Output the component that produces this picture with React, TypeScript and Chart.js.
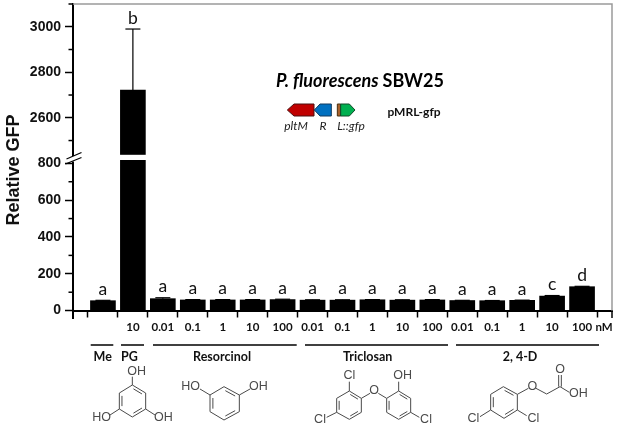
import { useEffect, useRef } from "react";
import { Chart, LinearScale, registerables } from "chart.js";

// ---- data ----
const categories = ["", "", "10", "0.01", "0.1", "1", "10", "100", "0.01", "0.1", "1", "10", "100", "0.01", "0.1", "1", "10", "100", ""];
const relativeGfp = [null, 54, 2722, 65, 58, 58, 58, 60, 57, 57, 59, 57, 58, 55, 54, 56, 79, 130, null];
const errorUp = [null, 2, 268, 5, 2, 2, 2, 2, 2, 2, 1, 2, 2, 1, 1, 1, 3, 2, null];
const letters = ["", "a", "b", "a", "a", "a", "a", "a", "a", "a", "a", "a", "a", "a", "a", "a", "c", "d", ""];
const majorTicks = [0, 200, 400, 600, 800, 2600, 2800, 3000];
const minorTicks = [100, 300, 500, 700, 2500, 2700, 2900, 3100];
const groupNames = ["Me", "PG", "Resorcinol", "Triclosan", "2, 4-D"];
const groupSpans = [[90.7, 113.3], [121, 144], [153, 296.7], [305, 448], [456, 599]];
const groupCentres = [102.7, 129.3, 222, 367.7, 520];

// piecewise value -> fraction of the axis height, with a cut between 830 and 2440
const breakAnchors = [[-40, 0], [830, 0.5102], [2440, 0.5217], [3100, 1]];

class BrokenScale extends LinearScale {
  static id = "brokenLinear";
  static defaults = LinearScale.defaults;
  getPixelForValue(value: any) {
    if (value === null || value === undefined) return NaN;
    let i = 0;
    while (i < breakAnchors.length - 2 && value > breakAnchors[i + 1][0]) i++;
    const [v0, f0] = breakAnchors[i];
    const [v1, f1] = breakAnchors[i + 1];
    const f = f0 + ((value - v0) / (v1 - v0)) * (f1 - f0);
    return this.bottom - f * (this.bottom - this.top);
  }
  getValueForPixel(pixel: number) {
    const f = (this.bottom - pixel) / (this.bottom - this.top);
    let i = 0;
    while (i < breakAnchors.length - 2 && f > breakAnchors[i + 1][1]) i++;
    const [v0, f0] = breakAnchors[i];
    const [v1, f1] = breakAnchors[i + 1];
    return v0 + ((f - f0) / (f1 - f0)) * (v1 - v0);
  }
}

Chart.register(...registerables, BrokenScale);

const CAL = "Lato, 'Open Sans', sans-serif";
const ARIAL = "'Liberation Sans', Arial, sans-serif";

function line(ctx: CanvasRenderingContext2D, pts: number[][]) {
  ctx.beginPath();
  pts.forEach((p, i) => (i ? ctx.lineTo(p[0], p[1]) : ctx.moveTo(p[0], p[1])));
  ctx.stroke();
}

function text(ctx: CanvasRenderingContext2D, s: string, x: number, y: number, font: string, color = "#000", align: CanvasTextAlign = "center") {
  ctx.font = font;
  ctx.fillStyle = color;
  ctx.textAlign = align;
  ctx.textBaseline = "middle";
  ctx.fillText(s, x, y);
}

function drawGene(ctx: CanvasRenderingContext2D) {
  const P = (x: number, y: number) => [260 + x / 3, 60 + y / 3];
  const poly = (pts: number[][], fill: string, stroke: string) => {
    ctx.beginPath();
    pts.forEach((p, i) => {
      const q = P(p[0], p[1]);
      i ? ctx.lineTo(q[0], q[1]) : ctx.moveTo(q[0], q[1]);
    });
    ctx.closePath();
    ctx.fillStyle = fill;
    ctx.fill();
    ctx.strokeStyle = stroke;
    ctx.lineWidth = 1;
    ctx.stroke();
  };
  poly([[82, 150], [102, 132], [162, 132], [162, 168], [102, 168]], "#c00000", "#4a1010");
  poly([[163, 150], [180, 132], [214, 132], [214, 168], [180, 168]], "#0070c0", "#123a5e");
  poly([[232, 132], [242, 132], [242, 168], [232, 168]], "#a8602a", "#4a3010");
  poly([[242, 132], [268, 132], [285, 150], [268, 168], [242, 168]], "#00b050", "#104a28");

  ctx.font = `italic bold 18px ${CAL}`;
  const w1 = ctx.measureText("P. fluorescens").width;
  text(ctx, "P. fluorescens", 276, 81.5, `italic bold 18px ${CAL}`, "#000", "left");
  text(ctx, "SBW25", 276 + w1 + 4, 81.5, `bold 18px ${CAL}`, "#000", "left");
  text(ctx, "pltM", 296, 126, `italic 12px ${CAL}`, "#222");
  text(ctx, "R", 323, 126, `italic 12px ${CAL}`, "#222");
  text(ctx, "L::gfp", 351, 126, `italic 12px ${CAL}`, "#222");
  text(ctx, "pMRL-gfp", 414, 112, `bold 12px ${CAL}`, "#111");
}

function ring(ctx: CanvasRenderingContext2D, v: number[][]) {
  line(ctx, [...v, v[0]]);
  const cx = v.reduce((a, p) => a + p[0], 0) / 6;
  const cy = v.reduce((a, p) => a + p[1], 0) / 6;
  [0, 2, 4].forEach((e) => {
    const a = v[e];
    const b = v[(e + 1) % 6];
    const s = 0.8;
    const m = (p: number[]) => [cx + (p[0] - cx) * s, cy + (p[1] - cy) * s];
    const a2 = m(a);
    const b2 = m(b);
    const t = 0.1;
    line(ctx, [
      [a2[0] + (b2[0] - a2[0]) * t, a2[1] + (b2[1] - a2[1]) * t],
      [b2[0] - (b2[0] - a2[0]) * t, b2[1] - (b2[1] - a2[1]) * t],
    ]);
  });
}

function drawMolecules(ctx: CanvasRenderingContext2D) {
  const gray = "#4a4a4a";
  ctx.strokeStyle = gray;
  ctx.lineWidth = 1;
  const font = `12.5px ${ARIAL}`;
  // left half of the picture
  const A = (p: number[]) => [p[0] / 3, 210 + p[1] / 3];
  // right half of the picture
  const B = (p: number[]) => [300 + p[0] / 3, 210 + p[1] / 3];
  const seg = (T: (p: number[]) => number[], ...pts: number[][]) => line(ctx, pts.map(T));
  const lab = (T: (p: number[]) => number[], s: string, p: number[]) => {
    const q = T(p);
    text(ctx, s, q[0], q[1], font, gray);
  };

  ring(ctx, [[397, 525], [437, 549], [437, 597], [397, 621], [358, 597], [358, 549]].map(A));
  seg(A, [397, 525], [397, 500]);
  seg(A, [358, 597], [330, 615]);
  seg(A, [437, 597], [465, 615]);
  lab(A, "OH", [410, 485]);
  lab(A, "HO", [305, 623]);
  lab(A, "OH", [490, 623]);

  ring(ctx, [[672, 530], [718, 555], [718, 605], [672, 630], [630, 605], [630, 555]].map(A));
  seg(A, [630, 555], [600, 537]);
  seg(A, [718, 555], [750, 537]);
  lab(A, "HO", [572, 530]);
  lab(A, "OH", [775, 530]);

  ring(ctx, [[148, 543], [184, 565], [184, 607], [148, 628], [110, 607], [110, 565]].map(B));
  ring(ctx, [[296, 543], [332, 565], [332, 607], [296, 628], [260, 607], [260, 565]].map(B));
  seg(B, [148, 543], [148, 515]);
  seg(B, [110, 607], [80, 622]);
  seg(B, [184, 565], [210, 550]);
  seg(B, [235, 550], [260, 565]);
  seg(B, [296, 543], [296, 515]);
  seg(B, [332, 607], [358, 622]);
  lab(B, "Cl", [148, 498]);
  lab(B, "Cl", [60, 628]);
  lab(B, "O", [222, 542]);
  lab(B, "OH", [308, 497]);
  lab(B, "Cl", [378, 628]);

  ring(ctx, [[610, 530], [652, 553], [652, 600], [612, 625], [572, 600], [572, 553]].map(B));
  seg(B, [572, 600], [540, 620]);
  seg(B, [652, 600], [680, 617]);
  seg(B, [652, 553], [685, 535]);
  seg(B, [708, 535], [740, 552], [780, 530]);
  seg(B, [776, 530], [776, 495]);
  seg(B, [784, 530], [784, 495]);
  seg(B, [780, 530], [808, 547]);
  lab(B, "Cl", [520, 625]);
  lab(B, "Cl", [700, 625]);
  lab(B, "O", [697, 530]);
  lab(B, "O", [780, 480]);
  lab(B, "OH", [835, 552]);
}

const annotations = {
  id: "annotations",
  afterDraw(chart: any) {
    const { ctx, chartArea: a, scales } = chart;
    const x = scales.x;
    const y = scales.y;
    ctx.save();
    ctx.lineCap = "butt";

    // frame: grey top and right, black stub under the x axis
    ctx.strokeStyle = "#9a9a9a";
    ctx.lineWidth = 1.5;
    line(ctx, [[a.left, a.top], [a.right, a.top], [a.right, y.getPixelForValue(0)]]);
    ctx.strokeStyle = "#000";
    ctx.lineWidth = 1.5;
    line(ctx, [[a.right, y.getPixelForValue(0)], [a.right, a.bottom]]);

    // minor y ticks
    minorTicks.forEach((v) => {
      const p = y.getPixelForValue(v);
      line(ctx, [[a.left - 4.5, p], [a.left, p]]);
    });

    // error bars and letters
    const bars = chart.getDatasetMeta(0).data;
    relativeGfp.forEach((v, i) => {
      if (v === null) return;
      const cx = x.getPixelForValue(i);
      const top = y.getPixelForValue(v + (errorUp[i] as number));
      ctx.strokeStyle = "#000";
      ctx.lineWidth = 1.2;
      line(ctx, [[cx, y.getPixelForValue(v)], [cx, top]]);
      line(ctx, [[cx - 7.5, top], [cx + 7.5, top]]);
      text(ctx, letters[i], cx, top - 11, `17.5px ${CAL}`, "#111");
    });

    // axis break: white cut through bar and axis, two slashes
    const bar = bars[2];
    ctx.fillStyle = "#fff";
    ctx.fillRect(bar.x - 14, 154.8, 28, 5.2);
    ctx.fillRect(a.left - 1.5, 156, 3, 5.5);
    ctx.strokeStyle = "#000";
    ctx.lineWidth = 1.2;
    line(ctx, [[66.5, 159], [81.5, 152.5]]);
    line(ctx, [[65.5, 164], [81.5, 157.5]]);

    // y title
    ctx.save();
    ctx.translate(14.5, 170);
    ctx.rotate(-Math.PI / 2);
    text(ctx, "Relative GFP", 0, 0, `bold 18px ${ARIAL}`, "#111");
    ctx.restore();

    text(ctx, "nM", 604, 327, `bold 11.5px ${CAL}`, "#111");

    // group brackets
    groupNames.forEach((name, i) => {
      ctx.strokeStyle = "#000";
      ctx.lineWidth = 1.5;
      line(ctx, [[groupSpans[i][0], 345], [groupSpans[i][1], 345]]);
      text(ctx, name, groupCentres[i], 356.5, `bold 12.5px ${CAL}`, "#111");
    });

    drawGene(ctx);
    drawMolecules(ctx);
    ctx.restore();
  },
};

export default function App() {
  const ref = useRef<HTMLCanvasElement | null>(null);
  useEffect(() => {
    if (!ref.current) return;
    const chart = new Chart(ref.current, {
      type: "bar",
      data: {
        labels: categories,
        datasets: [{ data: relativeGfp, backgroundColor: "#000", barThickness: 25 }],
      },
      plugins: [annotations],
      options: {
        responsive: false,
        animation: false,
        devicePixelRatio: 1,
        layout: { padding: { top: 4, right: 5, bottom: 109, left: 0 } },
        plugins: { legend: { display: false }, tooltip: { enabled: false }, title: { display: false } },
        scales: {
          x: {
            type: "category",
            offset: false,
            position: { y: 0 },
            grid: { drawOnChartArea: false, tickLength: 5.5, tickColor: "#000", tickWidth: 1.5 },
            border: { color: "#000", width: 2 },
            ticks: {
              autoSkip: false,
              maxRotation: 0,
              padding: 4,
              color: "#111",
              font: { family: CAL, size: 11.5, weight: "bold" },
            },
          },
          y: {
            type: "brokenLinear",
            min: -40,
            max: 3100,
            afterFit: (s: any) => {
              s.width = 73;
              s.paddingTop = 0;
              s.paddingBottom = 0;
            },
            afterBuildTicks: (s: any) => {
              s.ticks = majorTicks.map((value) => ({ value }));
            },
            grid: { drawOnChartArea: false, tickLength: 8, tickColor: "#000", tickWidth: 1.5 },
            border: { color: "#000", width: 2 },
            ticks: {
              autoSkip: false,
              padding: 4,
              color: "#111",
              font: { family: ARIAL, size: 14, weight: "bold" },
              callback: (v: any) => String(v),
            },
          },
        },
      } as any,
    } as any);
    return () => chart.destroy();
  }, []);
  return (
    <div style={{ position: "absolute", left: 0, top: 0, width: 617, height: 427, background: "#fff" }}>
      <canvas ref={ref} width={617} height={427} style={{ display: "block" }} />
    </div>
  );
}
